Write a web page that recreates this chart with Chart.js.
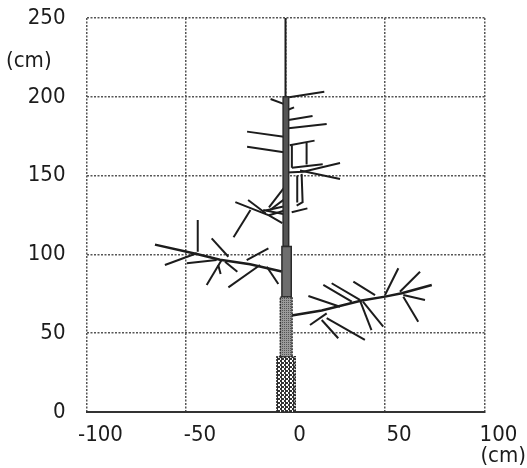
<!DOCTYPE html>
<html>
<head>
<meta charset="utf-8">
<script src="https://cdn.jsdelivr.net/npm/chart.js@4/dist/chart.umd.min.js"></script>
<style>
  html, body { margin: 0; padding: 0; background: #fff; }
  canvas { display: block; }
</style>
</head>
<body>
<canvas id="tree" width="527" height="468"></canvas>
<script>
// axis ticks (cm)
const xTicks = [-100, -50, 0, 50, 100];
const yTicks = [0, 50, 100, 150, 200, 250];

// trunk, split into sections that narrow upwards
const trunkBottom = [0, 35, 73, 105];
const trunkTop = [35, 73, 105, 200];
const trunkLeft = [-4.3, -2.6, -1.8, -1.2];
const trunkRight = [4.9, 3.3, 2.9, 1.6];

// leader above the last section
const leader = [[0, 200], [0, 250]];

// upper crown, above 150 cm
const crownTop = [
  [[1.8, 199.7], [19.5, 203.2]],
  [[-7.5, 198.6], [-0.3, 195.2]],
  [[1.0, 191.6], [4.3, 193.3]],
  [[1.5, 185.3], [13.6, 187.8]],
  [[1.5, 180.0], [20.7, 182.7]],
  [[-19.3, 177.9], [-0.8, 174.7]],
  [[-19.3, 168.3], [-0.8, 164.8]],
  [[2.1, 169.2], [14.6, 172.2]],
  [[10.6, 170.8], [10.6, 157.0]],
  [[3.2, 169.2], [3.2, 155.0]],
  [[3.2, 155.0], [18.7, 157.2]],
  [[0.6, 152.0], [8.9, 152.4], [27.4, 158.0]],
  [[7.3, 153.2], [27.4, 147.9]]
];

// crown between 110 and 150 cm
const crownMid = [
  [[0.1, 143.6], [-8.3, 129.8]],
  [[5.9, 150.0], [5.9, 133.0]],
  [[8.1, 151.1], [8.6, 133.1], [5.6, 131.0]],
  [[3.1, 126.7], [11.0, 129.2]],
  [[-25.2, 133.2], [-8.3, 124.8], [-1.6, 119.9]],
  [[-18.8, 134.5], [-10.0, 126.1]],
  [[-17.6, 128.2], [-26.1, 110.9]],
  [[-10.0, 127.8], [0.1, 130.7]],
  [[-8.3, 124.8], [0.1, 128.0]],
  [[-11.2, 128.2], [-0.5, 125.5]],
  [[-7.8, 128.2], [0.5, 136.0]]
];

// left scaffold branch, ~100 cm
const leftBranch = [[-1.9, 89.2], [-17.8, 93.8], [-32.9, 96.6], [-44.6, 100.2], [-65.6, 106.2]];
const leftTwigs = [
  [[-44.1, 121.8], [-44.1, 101.7]],
  [[-44.6, 100.7], [-60.6, 93.3]],
  [[-34.6, 96.4], [-49.6, 94.4]],
  [[-28.7, 98.5], [-37.1, 110.2]],
  [[-32.1, 96.4], [-39.6, 80.6]],
  [[-30.4, 95.4], [-24.2, 89.0]],
  [[-19.5, 96.4], [-8.6, 103.9]],
  [[-12.8, 93.3], [-28.7, 79.1]],
  [[-9.4, 92.2], [-3.6, 81.2]],
  [[-33.8, 93.3], [-32.6, 87.6]]
];

// right scaffold branch, ~60-80 cm
const rightBranch = [[3.1, 61.2], [18.2, 64.4], [38.3, 70.7], [50.0, 73.2], [58.4, 75.3], [73.5, 80.6]];
const rightTwigs = [
  [[11.5, 73.6], [27.4, 66.8]],
  [[19.0, 80.6], [33.3, 70.0]],
  [[23.2, 81.7], [37.4, 71.1]],
  [[34.1, 82.7], [45.0, 74.2]],
  [[12.3, 55.2], [20.7, 62.6]],
  [[18.2, 58.4], [26.5, 46.8]],
  [[20.7, 59.5], [39.9, 45.7]],
  [[37.3, 71.1], [43.2, 52.0]],
  [[38.9, 70.0], [49.1, 54.1]],
  [[50.0, 74.2], [56.7, 91.2]],
  [[57.5, 76.3], [67.6, 89.0]],
  [[59.2, 74.2], [70.1, 71.1]],
  [[59.2, 73.2], [66.7, 57.3]]
];

const FONT = '"Liberation Sans Narrow", "DejaVu Sans Condensed", sans-serif';
const INK = '#1c1c1c';

function makePattern(size, draw) {
  const c = document.createElement('canvas');
  c.width = size;
  c.height = size;
  draw(c.getContext('2d'));
  return c;
}

// checkered bark texture for the base, plain stipple higher up
const barkBaseTile = makePattern(4, g => {
  g.fillStyle = '#fff';
  g.fillRect(0, 0, 4, 4);
  g.fillStyle = '#333';
  g.fillRect(0, 0, 2, 2);
  g.fillRect(2, 2, 2, 2);
  g.fillRect(1, 0, 1, 4);
});
const barkMidTile = makePattern(2, g => {
  g.fillStyle = '#9a9a9a';
  g.fillRect(0, 0, 2, 2);
  g.fillStyle = '#555';
  g.fillRect(0, 0, 1, 1);
});

function toPoints(line) {
  return line.map(p => ({x: p[0], y: p[1]}));
}

function lineSet(line, width) {
  return {
    data: toPoints(line),
    showLine: true,
    borderColor: INK,
    borderWidth: width,
    pointRadius: 0,
    fill: false
  };
}

const canvas = document.getElementById('tree');
const pctx = canvas.getContext('2d');
const barkFills = [
  pctx.createPattern(barkBaseTile, 'repeat'),
  pctx.createPattern(barkMidTile, 'repeat'),
  '#6e6e6e',
  '#555'
];

const datasets = [];

trunkBottom.forEach((y0, i) => {
  const y1 = trunkTop[i], l = trunkLeft[i], r = trunkRight[i];
  datasets.push({
    data: toPoints([[l, y0], [l, y1], [r, y1], [r, y0], [l, y0]]),
    showLine: true,
    fill: 'shape',
    backgroundColor: barkFills[i],
    borderColor: '#2a2a2a',
    borderWidth: 1.5,
    borderDash: i < 2 ? [2, 1] : [],
    pointRadius: 0,
    order: 0
  });
});

datasets.push(Object.assign(lineSet(leader, 2), {order: 1}));
datasets.push(Object.assign(lineSet(leftBranch, 2.5), {order: 1}));
datasets.push(Object.assign(lineSet(rightBranch, 2.5), {order: 1}));
[crownTop, crownMid, leftTwigs, rightTwigs].forEach(group => {
  group.forEach(line => datasets.push(Object.assign(lineSet(line, 2), {order: 2})));
});

// x tick labels sit a little right of their grid lines; plus the "(cm)" captions
const axisText = {
  id: 'axisText',
  afterDraw(chart) {
    const ctx = chart.ctx;
    const xs = chart.scales.x;
    ctx.save();
    ctx.fillStyle = INK;
    ctx.font = '22px ' + FONT;
    ctx.textBaseline = 'middle';
    ctx.textAlign = 'center';
    xTicks.forEach(v => {
      ctx.fillText(String(v), xs.getPixelForValue(v) + 14, xs.top + 23);
    });
    ctx.textAlign = 'left';
    ctx.fillText('(cm)', 6, 61);
    ctx.textAlign = 'right';
    ctx.fillText('(cm)', 526, 456);
    ctx.restore();
  }
};

new Chart(canvas, {
  type: 'scatter',
  data: {datasets: datasets},
  options: {
    responsive: false,
    animation: false,
    devicePixelRatio: 1,
    layout: {padding: {left: 0, top: 18, right: 42.5, bottom: 0}},
    plugins: {legend: {display: false}, tooltip: {enabled: false}},
    scales: {
      x: {
        type: 'linear',
        min: xTicks[0],
        max: xTicks[xTicks.length - 1],
        afterFit: s => {
          s.height = 56;
          s.paddingLeft = 0;
          s.paddingRight = 0;
        },
        grid: {color: '#555', lineWidth: 1.5, drawTicks: false},
        border: {display: true, color: '#333', width: 2, dash: [2, 1.5]},
        ticks: {
          stepSize: xTicks[1] - xTicks[0],
          display: false,
          autoSkip: false
        }
      },
      y: {
        type: 'linear',
        min: yTicks[0],
        max: yTicks[yTicks.length - 1],
        afterFit: s => {
          s.width = 86.5;
          s.paddingTop = 0;
          s.paddingBottom = 0;
        },
        grid: {color: '#555', lineWidth: 1.5, drawTicks: false},
        border: {display: false, dash: [2, 1.5]},
        ticks: {
          stepSize: yTicks[1] - yTicks[0],
          color: INK,
          font: {family: FONT, size: 22},
          padding: 21,
          autoSkip: false
        }
      }
    }
  },
  plugins: [axisText]
});
</script>
</body>
</html>
